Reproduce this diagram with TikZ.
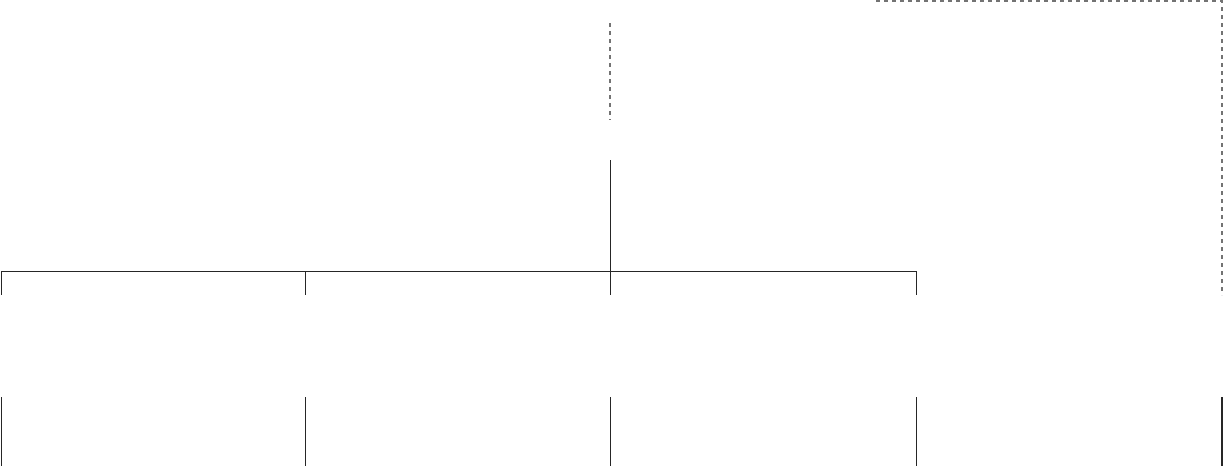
\documentclass[tikz,border=0pt]{standalone}
\begin{document}
\begin{tikzpicture}[x=1pt,y=-1pt,
  solidline/.style={draw=black!85,line width=1pt},
  dashline/.style={draw=black!55,line width=1.2pt,dash pattern=on 4pt off 4pt}]
\useasboundingbox (0,0) rectangle (1224,466);
% named anchor points
\coordinate (topA) at (610,23);
\coordinate (topB) at (610,120);
\coordinate (root) at (610,160);
\coordinate (bus) at (610,271);
\foreach \n/\x in {a/1,b/305,c/610,d/916}{
  \coordinate (bus\n) at (\x,271);
  \coordinate (drop\n) at (\x,295);
  \coordinate (low\n) at (\x,397);
  \coordinate (end\n) at (\x,466);
}
\coordinate (lowe) at (1222,397);
\coordinate (ende) at (1222,466);
\coordinate (fbA) at (876,1);
\coordinate (fbB) at (1222,1);
\coordinate (fbC) at (1222,295);
% connectors
\draw[dashline] (topA) -- (topB);
\draw[solidline] (root) -- (bus);
\draw[solidline] (busa) -- (busd);
\foreach \n in {a,b,c,d}{
  \draw[solidline] (bus\n) -- (drop\n);
  \draw[solidline] (low\n) -- (end\n);
}
\draw[solidline,line width=1.2pt] (lowe) -- (ende);
\draw[dashline] (fbA) -- (fbB) -- (fbC);
\end{tikzpicture}
\end{document}
